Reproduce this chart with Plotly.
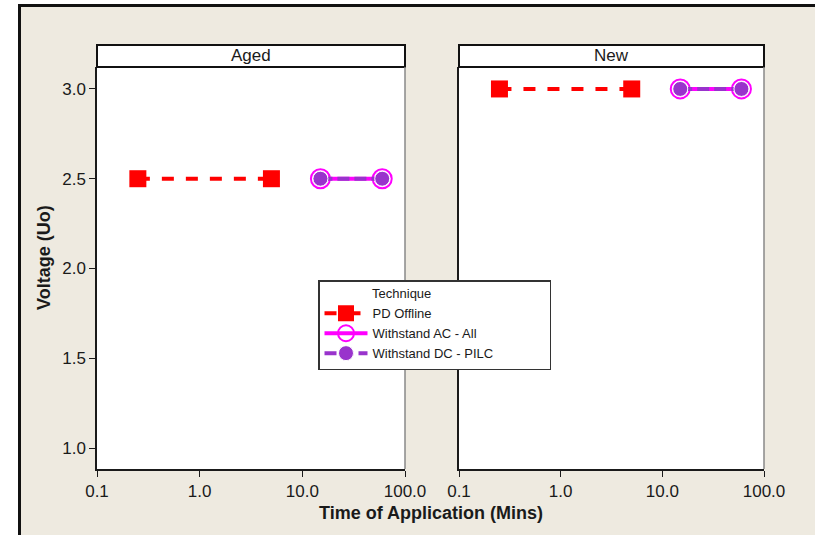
import plotly.graph_objects as go

panels = ["Aged", "New"]
pd_time = [0.25, 5]
ws_time = [15, 60]
voltage = {"Aged": 2.5, "New": 3.0}
xticks = [0.1, 1, 10, 100]
xticklabels = ["0.1", "1.0", "10.0", "100.0"]
yticks = [1.0, 1.5, 2.0, 2.5, 3.0]
yticklabels = ["1.0", "1.5", "2.0", "2.5", "3.0"]

W, H = 815, 535
L, R, T, B = 97, 764, 67, 469
pw, ph = R - L, B - T
dom1 = [0, (405 - L) / pw]
dom2 = [(459 - L) / pw, 1]


def px(x):
    return (x - L) / pw


def py(y):
    return (B - y) / ph


pad = "\u00a0" * 14
fig = go.Figure()
for i, p in enumerate(panels):
    xa = "x" if i == 0 else "x2"
    ya = "y" if i == 0 else "y2"
    v = voltage[p]
    fig.add_trace(go.Scatter(x=pd_time, y=[v, v], xaxis=xa, yaxis=ya, mode="lines+markers",
                             name="PD Offline", legendgroup="pd", showlegend=(i == 0),
                             line=dict(color="#FF0000", width=4, dash="dash"),
                             marker=dict(symbol="square", size=17, color="#FF0000")))
    fig.add_trace(go.Scatter(x=ws_time, y=[v, v], xaxis=xa, yaxis=ya, mode="lines+markers",
                             name="Withstand AC - All", legendgroup="ac", showlegend=(i == 0),
                             line=dict(color="#FF00FF", width=4),
                             marker=dict(symbol="circle-open", size=19, color="#FF00FF",
                                         line=dict(width=2, color="#FF00FF"))))
    fig.add_trace(go.Scatter(x=ws_time, y=[v, v], xaxis=xa, yaxis=ya, mode="lines+markers",
                             name="Withstand DC - PILC" + pad, legendgroup="dc", showlegend=(i == 0),
                             line=dict(color="#9933CC", width=4, dash="12px,5px"),
                             marker=dict(symbol="circle", size=15, color="#9933CC",
                                         line=dict(width=1, color="white"))))

font = "Liberation Sans, Arial, sans-serif"
ink = "#1a1a1a"
axx = dict(type="log", range=[-1, 2], tickvals=xticks, ticktext=xticklabels, ticks="outside",
           ticklen=6, tickcolor=ink, showline=True, linecolor=ink, linewidth=1.5,
           showgrid=False, zeroline=False, tickfont=dict(size=17, color=ink, family=font))
yrange = [1.0 - 21 / 180, 3.0 + 22 / 180]
fig.update_layout(
    width=W, height=H, margin=dict(l=L, r=W - R, t=T, b=H - B),
    paper_bgcolor="#EEEAE0", plot_bgcolor="white",
    xaxis=dict(domain=dom1, anchor="y", **axx),
    xaxis2=dict(domain=dom2, anchor="y2", **axx),
    yaxis=dict(domain=[0, 1], range=yrange, tickvals=yticks, ticktext=yticklabels,
               ticks="outside", ticklen=6, tickcolor=ink, showline=True, linecolor=ink,
               linewidth=1.5, showgrid=False, zeroline=False,
               tickfont=dict(size=17, color=ink, family=font)),
    yaxis2=dict(domain=[0, 1], range=yrange, anchor="x2", showticklabels=False, ticks="",
                showline=True, linecolor=ink, linewidth=1.5, showgrid=False, zeroline=False),
    legend=dict(x=px(318), y=py(280), xanchor="left", yanchor="top",
                bgcolor="white", bordercolor="#333", borderwidth=1.5,
                font=dict(size=13, color=ink, family=font),
                title=dict(text="\u00a0" * 14 + "Technique", font=dict(size=13, color=ink, family=font)),
                tracegroupgap=0, itemwidth=43),
    showlegend=True,
)

shapes = []
shapes.append(dict(type="rect", xref="paper", yref="paper", x0=px(-10), x1=px(18),
                   y0=py(560), y1=py(-10), fillcolor="white", line=dict(width=0)))
shapes.append(dict(type="rect", xref="paper", yref="paper", x0=px(-10), x1=px(830),
                   y0=py(4), y1=py(-10), fillcolor="white", line=dict(width=0)))
shapes.append(dict(type="line", xref="paper", yref="paper", x0=px(19.5), x1=px(19.5),
                   y0=py(560), y1=py(4), line=dict(color="#111", width=3)))
shapes.append(dict(type="line", xref="paper", yref="paper", x0=px(18), x1=px(830),
                   y0=py(5.5), y1=py(5.5), line=dict(color="#111", width=3)))
hh = 22 / ph
for d, p in zip([dom1, dom2], panels):
    shapes.append(dict(type="rect", xref="paper", yref="paper", x0=d[0], x1=d[1], y0=1, y1=1 + hh,
                       fillcolor="white", line=dict(color="#111", width=2)))
    shapes.append(dict(type="line", xref="paper", yref="paper", x0=d[1], x1=d[1], y0=0, y1=1,
                       line=dict(color="#888", width=1.5)))
    fig.add_annotation(x=(d[0] + d[1]) / 2, y=1 + hh / 2, xref="paper", yref="paper", text=p,
                       showarrow=False, xanchor="center", yanchor="middle",
                       font=dict(size=17, color=ink, family=font))
fig.update_layout(shapes=shapes)
fig.add_annotation(x=0.5, y=py(513), xref="paper", yref="paper",
                   text="<b>Time of Application (Mins)</b>", showarrow=False,
                   xanchor="center", yanchor="middle",
                   font=dict(size=18, color=ink, family=font))
fig.add_annotation(x=px(44), y=py(258), xref="paper", yref="paper",
                   text="<b>Voltage (Uo)</b>", showarrow=False, textangle=-90,
                   xanchor="center", yanchor="middle",
                   font=dict(size=18, color=ink, family=font))

fig.write_html("out.html")
